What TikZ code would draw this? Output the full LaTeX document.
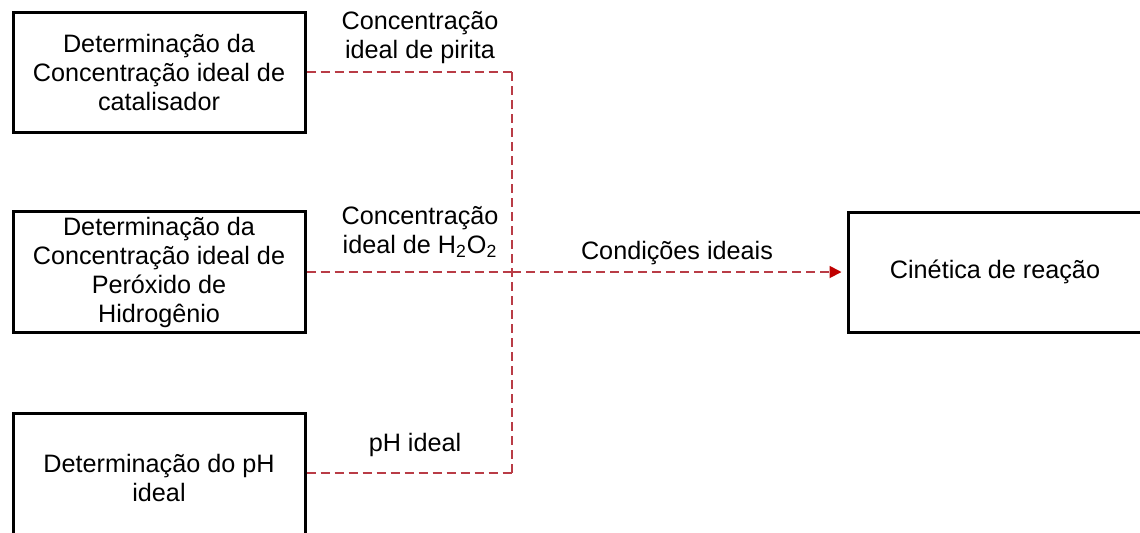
\documentclass[tikz,border=0pt]{standalone}
\usepackage{fontspec}
\setmainfont{Liberation Sans}
\usetikzlibrary{arrows.meta}
\definecolor{dashred}{RGB}{185,60,70}
\definecolor{tipred}{RGB}{192,0,0}
\begin{document}
\begin{tikzpicture}[x=0.5pt,y=-0.5pt,
  txt/.style={font=\fontsize{12.6}{14.5}\selectfont, align=center, inner sep=0pt},
  box/.style={txt, draw=black, line width=1.5pt, minimum width=146pt, minimum height=60pt},
  conn/.style={draw=dashred, line width=0.9pt, dash pattern=on 4.5pt off 2.5pt},
  lbl/.style={txt}
]
\useasboundingbox (0,0) rectangle (1140,532);
\fill[white] (0,0) rectangle (1140,532);

\node[box] (b1) at (159,72) {Determinação da\\Concentração ideal de\\catalisador};
\node[box, minimum height=60.5pt] (b2) at (159,272) {Determinação da\\Concentração ideal de\\Peróxido de\\Hidrogênio};
\node[box, minimum height=65pt] (b3) at (159,478) {Determinação do pH\\ideal};
\node[box, minimum width=147pt] (r) at (995,272) {Cinética de reação};

\coordinate (jt) at (512,72);
\coordinate (jm) at (512,272);
\coordinate (jb) at (512,473);

\draw[conn] (b1.east) -- (jt);
\draw[conn] (b2.east) -- (jm);
\draw[conn] (b3.east |- jb) -- (jb);
\draw[conn] (jt) -- (jb);
\draw[conn, -{Triangle[length=6pt,width=6pt,color=tipred,fill=tipred]}, shorten >=2.5pt] (jm) -- (r.west);

\node[lbl] (l1) at (420,38) {Concentração\\ideal de pirita};
\node[lbl] (l2) at (420,232) {Concentração\\ideal de H\textsubscript{2}O\textsubscript{2}};
\node[lbl, anchor=base] (l3) at (415,451) {pH ideal};
\node[lbl, anchor=base] (l4) at (677,259) {Condições ideais};
\end{tikzpicture}
\end{document}
